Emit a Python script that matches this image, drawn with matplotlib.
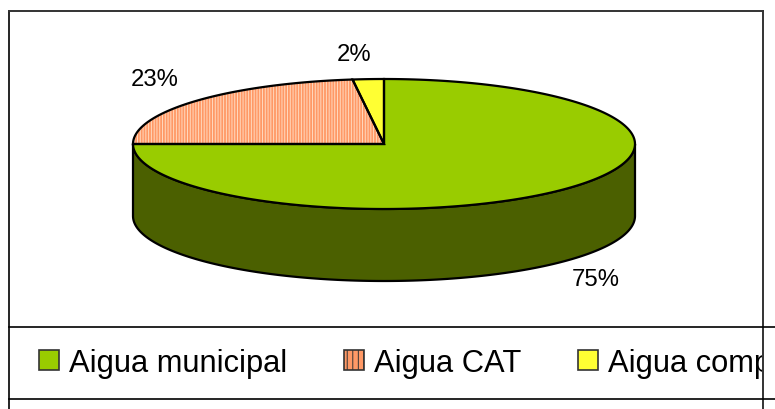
import numpy as np
import matplotlib
matplotlib.use("Agg")
import matplotlib.pyplot as plt
from matplotlib.patches import Polygon, Patch
from matplotlib.transforms import Bbox, TransformedBbox

plt.rcParams['font.family'] = ['Liberation Sans', 'DejaVu Sans']
plt.rcParams['hatch.linewidth'] = 0.7

# data
labels = ['Aigua municipal', 'Aigua CAT', 'Aigua comp']
values = [75, 23, 2]
pct_labels = ['75%', '23%', '2%']

# style
top_colors = ['#99cc00', '#ff9966', '#ffff33']
side_color = '#4b6000'
stripe_color = '#ffd9bf'
hatches = [None, '||||||', None]
label_offsets = [(34, 17), (-41, -22), (-14, -25)]  # pixel offsets from rim point

cx, cy = 384, 145      # centre of top face (pixels)
rx, ry = 251, 65       # radii of the top ellipse
depth = 72             # thickness of the pie

fig = plt.figure(figsize=(7.75, 4.1), dpi=100)
ax = fig.add_axes([0, 0, 1, 1])
ax.set_xlim(0, 775)
ax.set_ylim(410, 0)
ax.axis('off')


def rim(t):
    t = np.radians(t)
    return cx + rx * np.cos(t), cy - ry * np.sin(t)


# wedge angles, clockwise from 12 o'clock
fracs = np.array(values) / sum(values)
starts = 90 - 360 * np.concatenate([[0], np.cumsum(fracs)[:-1]])
ends = starts - 360 * fracs

# side wall (front half of the cylinder)
t = np.linspace(-180, 0, 200)
xs, ys = rim(t)
side = np.column_stack([np.r_[xs, xs[::-1]], np.r_[ys, ys[::-1] + depth]])
ax.add_patch(Polygon(side, closed=True, facecolor=side_color,
                     edgecolor='black', lw=1.6, zorder=2))

# top face wedges
for i, (a0, a1) in enumerate(zip(starts, ends)):
    t = np.linspace(a0, a1, 200)
    xs, ys = rim(t)
    pts = np.column_stack([np.r_[cx, xs], np.r_[cy, ys]])
    ax.add_patch(Polygon(pts, closed=True, facecolor=top_colors[i],
                         edgecolor='none', lw=0, zorder=3))
    if hatches[i]:
        ax.add_patch(Polygon(pts, closed=True, facecolor='none',
                             edgecolor=stripe_color, hatch=hatches[i], lw=0, zorder=3))
    ax.add_patch(Polygon(pts, closed=True, facecolor='none',
                         edgecolor='black', lw=1.6, zorder=4))

    # percentage label
    mid = (a0 + a1) / 2
    lx, ly = rim(mid)
    if np.sin(np.radians(mid)) < 0:
        ly += depth
    dx, dy = label_offsets[i]
    ax.text(lx + dx, ly + dy, pct_labels[i], fontsize=17.2, ha='center', va='center', zorder=5)

# chart frame and legend separators
ax.plot([9, 9], [12, 410], color='black', lw=1.2)
ax.plot([763, 763], [12, 410], color='#333333', lw=1.4)
ax.plot([9, 763], [12, 12], color='#333333', lw=1.4)
ax.plot([9, 775], [328, 328], color='black', lw=1.2)
ax.plot([9, 775], [400, 400], color='black', lw=1.2)

# legend
handles = []
for i in range(len(labels)):
    if hatches[i]:
        handles.append(Patch(facecolor=top_colors[i], edgecolor='#333333', hatch='|||', lw=1.2))
    else:
        handles.append(Patch(facecolor=top_colors[i], edgecolor='#333333', lw=1.2))
leg = ax.legend(handles, labels, loc='center left', bbox_to_anchor=(39, 364),
                bbox_transform=ax.transData, ncol=3, frameon=False, fontsize=22.2,
                borderpad=0, borderaxespad=0, handlelength=0.64, handleheight=0.64,
                handletextpad=0.33, columnspacing=1.84)
clip = TransformedBbox(Bbox([[0, 0], [762, 410]]), ax.transData)
for txt in leg.get_texts():
    txt.set_clip_box(clip)
    txt.set_clip_on(True)

fig.savefig('out.png', dpi=100)
